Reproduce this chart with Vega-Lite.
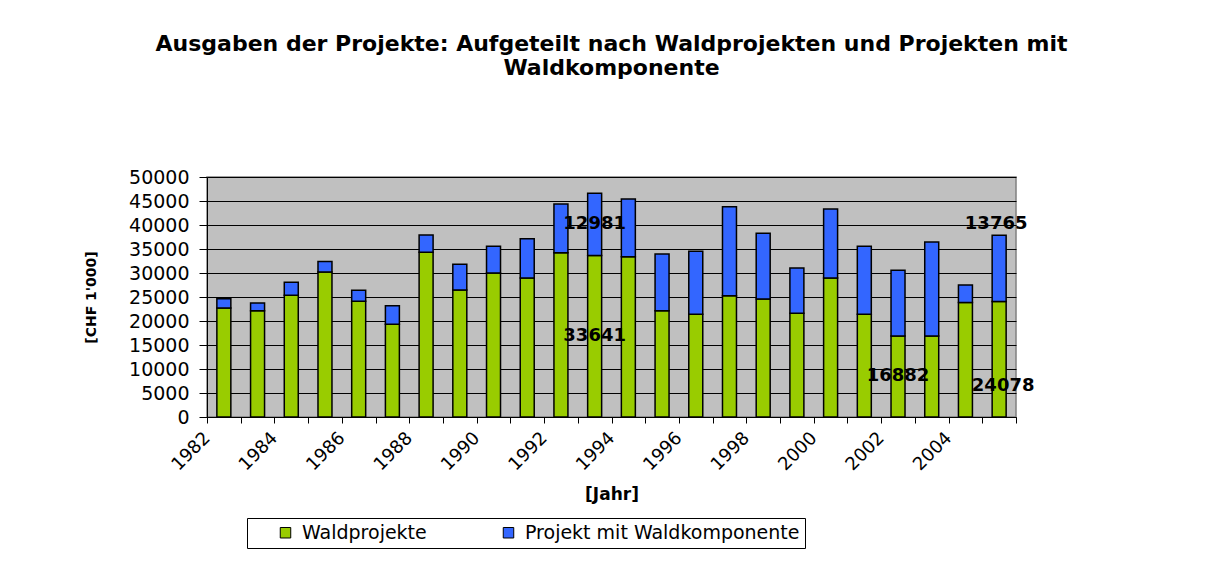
{
  "$schema": "https://vega.github.io/schema/vega-lite/v6.json",
  "width": 809,
  "height": 240,
  "autosize": {"type": "none"},
  "padding": {"left": 207, "top": 177, "right": 205, "bottom": 164},
  "background": "white",
  "title": {
    "text": ["Ausgaben der Projekte: Aufgeteilt nach Waldprojekten und Projekten mit", "Waldkomponente"],
    "font": "DejaVu Sans",
    "fontSize": 22,
    "fontWeight": "bold",
    "color": "black",
    "anchor": "middle",
    "offset": 88,
    "lineHeight": 24
  },
  "data": {
    "values": [
      {"year": 1982, "series": "Waldprojekte", "value": 22700},
      {"year": 1982, "series": "Projekt mit Waldkomponente", "value": 1960},
      {"year": 1983, "series": "Waldprojekte", "value": 22160},
      {"year": 1983, "series": "Projekt mit Waldkomponente", "value": 1590},
      {"year": 1984, "series": "Waldprojekte", "value": 25350},
      {"year": 1984, "series": "Projekt mit Waldkomponente", "value": 2710},
      {"year": 1985, "series": "Waldprojekte", "value": 30200},
      {"year": 1985, "series": "Projekt mit Waldkomponente", "value": 2170},
      {"year": 1986, "series": "Waldprojekte", "value": 24100},
      {"year": 1986, "series": "Projekt mit Waldkomponente", "value": 2290},
      {"year": 1987, "series": "Waldprojekte", "value": 19310},
      {"year": 1987, "series": "Projekt mit Waldkomponente", "value": 3890},
      {"year": 1988, "series": "Waldprojekte", "value": 34300},
      {"year": 1988, "series": "Projekt mit Waldkomponente", "value": 3610},
      {"year": 1989, "series": "Waldprojekte", "value": 26450},
      {"year": 1989, "series": "Projekt mit Waldkomponente", "value": 5350},
      {"year": 1990, "series": "Waldprojekte", "value": 30000},
      {"year": 1990, "series": "Projekt mit Waldkomponente", "value": 5560},
      {"year": 1991, "series": "Waldprojekte", "value": 28950},
      {"year": 1991, "series": "Projekt mit Waldkomponente", "value": 8210},
      {"year": 1992, "series": "Waldprojekte", "value": 34240},
      {"year": 1992, "series": "Projekt mit Waldkomponente", "value": 10130},
      {"year": 1993, "series": "Waldprojekte", "value": 33641, "label": "33641"},
      {"year": 1993, "series": "Projekt mit Waldkomponente", "value": 12981, "label": "12981"},
      {"year": 1994, "series": "Waldprojekte", "value": 33410},
      {"year": 1994, "series": "Projekt mit Waldkomponente", "value": 12000},
      {"year": 1995, "series": "Waldprojekte", "value": 22160},
      {"year": 1995, "series": "Projekt mit Waldkomponente", "value": 11790},
      {"year": 1996, "series": "Waldprojekte", "value": 21390},
      {"year": 1996, "series": "Projekt mit Waldkomponente", "value": 13120},
      {"year": 1997, "series": "Waldprojekte", "value": 25280},
      {"year": 1997, "series": "Projekt mit Waldkomponente", "value": 18540},
      {"year": 1998, "series": "Waldprojekte", "value": 24580},
      {"year": 1998, "series": "Projekt mit Waldkomponente", "value": 13680},
      {"year": 1999, "series": "Waldprojekte", "value": 21600},
      {"year": 1999, "series": "Projekt mit Waldkomponente", "value": 9440},
      {"year": 2000, "series": "Waldprojekte", "value": 28950},
      {"year": 2000, "series": "Projekt mit Waldkomponente", "value": 14380},
      {"year": 2001, "series": "Waldprojekte", "value": 21390},
      {"year": 2001, "series": "Projekt mit Waldkomponente", "value": 14170},
      {"year": 2002, "series": "Waldprojekte", "value": 16882, "label": "16882"},
      {"year": 2002, "series": "Projekt mit Waldkomponente", "value": 13680},
      {"year": 2003, "series": "Waldprojekte", "value": 16870},
      {"year": 2003, "series": "Projekt mit Waldkomponente", "value": 19580},
      {"year": 2004, "series": "Waldprojekte", "value": 23830},
      {"year": 2004, "series": "Projekt mit Waldkomponente", "value": 3670},
      {"year": 2005, "series": "Waldprojekte", "value": 24078, "label": "24078"},
      {"year": 2005, "series": "Projekt mit Waldkomponente", "value": 13765, "label": "13765"}
    ]
  },
  "encoding": {
    "x": {
      "field": "year",
      "type": "ordinal",
      "scale": {"paddingInner": 0, "paddingOuter": 0},
      "axis": {
        "title": "[Jahr]",
        "labelAngle": -45,
        "labelAlign": "right",
        "labelBaseline": "middle",
        "labelOverlap": false,
        "labelOffset": -16.85,
        "tickBand": "extent",
        "labelExpr": "datum.value % 2 == 0 ? datum.label : ''",
        "tickSize": 6,
        "tickColor": "black",
        "domainColor": "black",
        "labelFontSize": 18,
        "labelColor": "black",
        "labelPadding": 12,
        "titleFontSize": 17,
        "titleFontWeight": "bold",
        "titleColor": "black",
        "titlePadding": 13,
        "grid": false
      }
    }
  },
  "layer": [
    {
      "mark": {"type": "bar", "stroke": "black", "strokeWidth": 1.5, "width": {"band": 0.415}},
      "encoding": {
        "y": {
          "field": "value",
          "type": "quantitative",
          "stack": "zero",
          "title": "[CHF 1'000]",
          "scale": {"domain": [0, 50000], "nice": false}
        },
        "color": {
          "field": "series",
          "type": "nominal",
          "scale": {"domain": ["Waldprojekte", "Projekt mit Waldkomponente"], "range": ["#99CC00", "#3366FF"]},
          "legend": {
            "orient": "none",
            "legendX": 40,
            "legendY": 341,
            "direction": "horizontal",
            "title": "\u00a0",
            "titleOrient": "left",
            "titleFontSize": 18,
            "titlePadding": 24,
            "strokeColor": "black",
            "fillColor": "white",
            "padding": 5,
            "symbolType": "square",
            "symbolSize": 110,
            "symbolStrokeColor": "black",
            "symbolStrokeWidth": 1,
            "labelFontSize": 19,
            "labelLimit": 500,
            "labelColor": "black",
            "labelOffset": 7,
            "columnPadding": 72
          }
        },
        "order": {"field": "series", "sort": "descending"}
      }
    },
    {
      "transform": [
        {"stack": "value", "groupby": ["year"], "sort": [{"field": "series", "order": "descending"}], "as": ["v0", "v1"]},
        {"calculate": "(datum.v0 + datum.v1) / 2", "as": "mid"},
        {"filter": "datum.label != null && datum.year != 2005"}
      ],
      "mark": {"type": "text", "fontSize": 18, "fontWeight": "bold", "color": "black"},
      "encoding": {
        "y": {"field": "mid", "type": "quantitative", "title": "[CHF 1'000]"},
        "text": {"field": "label"}
      }
    },
    {
      "transform": [
        {"stack": "value", "groupby": ["year"], "sort": [{"field": "series", "order": "descending"}], "as": ["v0", "v1"]},
        {"calculate": "(datum.v0 + datum.v1) / 2", "as": "mid"},
        {"filter": "datum.year == 2005 && datum.series == 'Projekt mit Waldkomponente'"}
      ],
      "mark": {"type": "text", "fontSize": 18, "fontWeight": "bold", "color": "black", "dx": -3, "dy": -44},
      "encoding": {
        "y": {"field": "mid", "type": "quantitative", "title": "[CHF 1'000]"},
        "text": {"field": "label"}
      }
    },
    {
      "transform": [
        {"stack": "value", "groupby": ["year"], "sort": [{"field": "series", "order": "descending"}], "as": ["v0", "v1"]},
        {"calculate": "(datum.v0 + datum.v1) / 2", "as": "mid"},
        {"filter": "datum.year == 2005 && datum.series == 'Waldprojekte'"}
      ],
      "mark": {"type": "text", "fontSize": 18, "fontWeight": "bold", "color": "black", "dx": 4, "dy": 27},
      "encoding": {
        "y": {"field": "mid", "type": "quantitative", "title": "[CHF 1'000]"},
        "text": {"field": "label"}
      }
    }
  ],
  "config": {
    "font": "DejaVu Sans",
    "view": {"fill": "#C0C0C0", "stroke": "#808080", "strokeWidth": 1.5},
    "axisY": {
      "tickCount": 10,
      "format": "d",
      "labelOverlap": false,
      "grid": true,
      "gridColor": "black",
      "gridWidth": 1,
      "tickSize": 8,
      "tickColor": "black",
      "domainColor": "black",
      "labelFontSize": 19,
      "labelColor": "black",
      "labelPadding": 10,
      "titleFontSize": 14,
      "titleFontWeight": "bold",
      "titleColor": "black",
      "titlePadding": 30
    }
  }
}
